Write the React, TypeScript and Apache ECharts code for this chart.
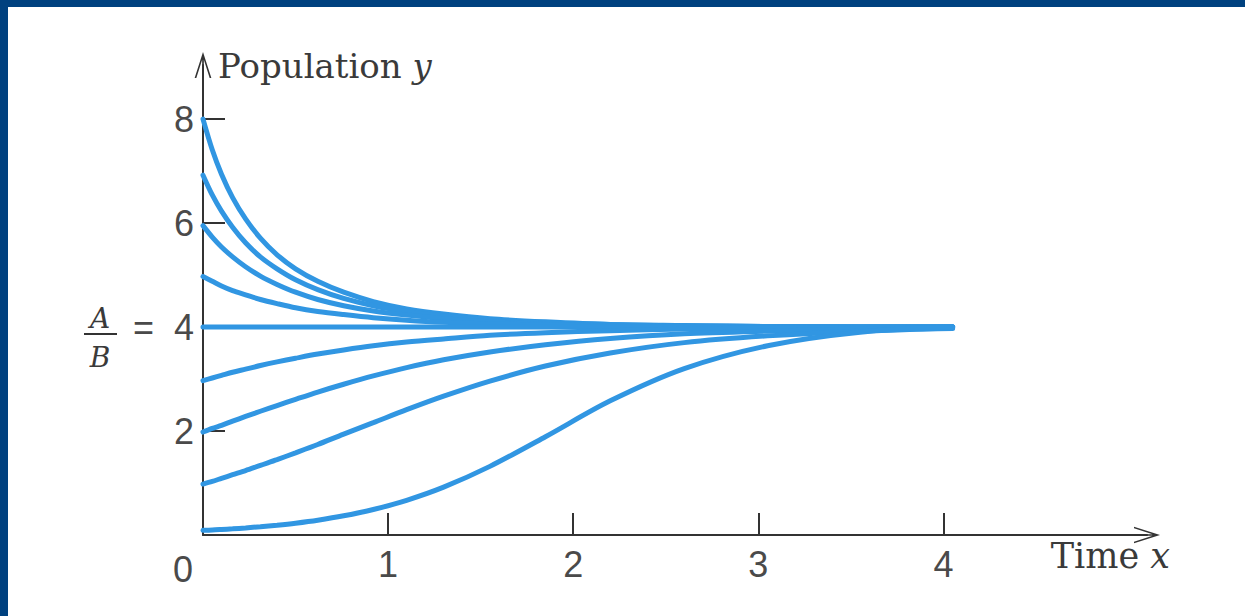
import React, { useEffect, useRef } from 'react';
import * as echarts from 'echarts';

// Sample times (x) shared by every curve (gradually widening steps)
const TIMES = [0, 0.05, 0.1, 0.16, 0.23, 0.31, 0.4, 0.5, 0.62, 0.76, 0.92, 1.1, 1.3, 1.55, 1.85, 2.2, 2.6, 3.05, 3.55, 4.05];

// Population values, one array per curve
const FROM_8 = [8.0, 7.41, 6.94, 6.49, 6.08, 5.71, 5.39, 5.12, 4.88, 4.67, 4.49, 4.35, 4.25, 4.16, 4.1, 4.05, 4.03, 4.01, 4.0, 4.0];
const FROM_7 = [6.92, 6.54, 6.23, 5.92, 5.62, 5.35, 5.12, 4.91, 4.72, 4.55, 4.41, 4.3, 4.21, 4.14, 4.08, 4.05, 4.02, 4.01, 4.0, 4.0];
const FROM_6 = [5.95, 5.73, 5.54, 5.35, 5.16, 4.98, 4.82, 4.67, 4.53, 4.41, 4.31, 4.23, 4.16, 4.1, 4.06, 4.03, 4.02, 4.01, 4.0, 4.0];
const FROM_5 = [4.97, 4.88, 4.79, 4.7, 4.62, 4.53, 4.45, 4.37, 4.3, 4.24, 4.18, 4.13, 4.09, 4.06, 4.04, 4.02, 4.01, 4.0, 4.0, 4.0];
const FROM_4 = [4, 4, 4, 4, 4, 4, 4, 4, 4, 4, 4, 4, 4, 4, 4, 4, 4, 4, 4, 4];
const FROM_3 = [2.97, 3.02, 3.07, 3.13, 3.19, 3.26, 3.33, 3.4, 3.48, 3.56, 3.64, 3.71, 3.77, 3.84, 3.89, 3.93, 3.96, 3.98, 3.99, 4.0];
const FROM_2 = [1.98, 2.05, 2.11, 2.19, 2.28, 2.38, 2.49, 2.61, 2.75, 2.9, 3.06, 3.22, 3.37, 3.52, 3.66, 3.78, 3.87, 3.92, 3.96, 3.98];
const FROM_1 = [0.98, 1.03, 1.09, 1.16, 1.24, 1.34, 1.45, 1.58, 1.74, 1.94, 2.16, 2.41, 2.67, 2.96, 3.25, 3.5, 3.7, 3.83, 3.92, 3.97];
const FROM_0 = [0.09, 0.096, 0.106, 0.119, 0.136, 0.159, 0.189, 0.228, 0.285, 0.369, 0.491, 0.668, 0.921, 1.32, 1.89, 2.58, 3.2, 3.64, 3.9, 4.0];

const CURVES = [FROM_8, FROM_7, FROM_6, FROM_5, FROM_4, FROM_3, FROM_2, FROM_1, FROM_0];

const X_TICKS = [1, 2, 3, 4];
const X_LABELS = [0, 1, 2, 3, 4];
const Y_TICKS = [2, 4, 6, 8];
const X_MAX = 5.1;
const Y_MAX = 9.04;
const EQUILIBRIUM = 4;

const LINE_COLOR = '#3196e2';
const AXIS_COLOR = '#333333';
const TEXT_COLOR = '#3a3a3a';
const DIGIT_COLOR = '#4a4a4a';
const FRAME_COLOR = '#00417f';

const ARROW =
  'path://M0,28 L9,0 L18,28 L16.2,28 L9,5.5 L1.8,28 Z M8.1,5.5 L9.9,5.5 L9.9,28 L8.1,28 Z';

export default function App() {
  const ref = useRef<HTMLDivElement>(null);

  useEffect(() => {
    const chart = echarts.init(ref.current as HTMLDivElement, null, { renderer: 'svg' });

    const series = CURVES.map((ys, i) => ({
      type: 'line',
      name: 'curve' + i,
      data: TIMES.map((t, j) => [t, ys[j]]),
      smooth: 0.3,
      showSymbol: false,
      symbol: 'none',
      silent: true,
      lineStyle: { width: 5, color: LINE_COLOR, cap: 'round' },
      z: 2,
    }));

    const digitStyle = {
      fontFamily: 'Liberation Sans',
      fontSize: 36,
      color: DIGIT_COLOR,
    };

    chart.setOption({
      animation: false,
      backgroundColor: 'transparent',
      grid: { left: 203, right: 98, top: 65, bottom: 81, containLabel: false },
      xAxis: {
        type: 'value',
        min: 0,
        max: X_MAX,
        name: '{t|Time }{x|x}',
        nameLocation: 'end',
        nameGap: 23,
        nameTextStyle: {
          align: 'right',
          verticalAlign: 'top',
          padding: [3, 0, 0, 0],
          rich: {
            t: { fontFamily: 'DejaVu Serif', fontSize: 35, color: TEXT_COLOR },
            x: { fontFamily: 'DejaVu Serif', fontStyle: 'italic', fontSize: 35, color: TEXT_COLOR },
          },
        },
        axisLine: {
          show: true,
          onZero: false,
          symbol: ['none', ARROW],
          symbolSize: [17, 26],
          lineStyle: { color: AXIS_COLOR, width: 2 },
        },
        axisTick: {
          show: true,
          inside: true,
          length: 22,
          customValues: X_TICKS,
          lineStyle: { color: AXIS_COLOR, width: 2 },
        },
        axisLabel: {
          show: true,
          margin: 11,
          customValues: X_LABELS,
          ...digitStyle,
          formatter: (v: number) => (v === 0 ? '{z|0}' : String(v)),
          rich: {
            z: { ...digitStyle, padding: [5, 40, 0, 0] },
          },
        },
        splitLine: { show: false },
      },
      yAxis: {
        type: 'value',
        min: 0,
        max: Y_MAX,
        name: '{p|Population }{y|y}',
        nameLocation: 'end',
        nameGap: 16,
        nameTextStyle: {
          align: 'left',
          verticalAlign: 'top',
          padding: [0, 0, 0, 15],
          rich: {
            p: { fontFamily: 'DejaVu Serif', fontSize: 34, color: TEXT_COLOR },
            y: { fontFamily: 'DejaVu Serif', fontStyle: 'italic', fontSize: 34, color: TEXT_COLOR },
          },
        },
        axisLine: {
          show: true,
          onZero: false,
          symbol: ['none', ARROW],
          symbolSize: [17, 26],
          lineStyle: { color: AXIS_COLOR, width: 2 },
        },
        axisTick: {
          show: true,
          inside: true,
          length: 22,
          customValues: Y_TICKS,
          lineStyle: { color: AXIS_COLOR, width: 2 },
        },
        axisLabel: {
          show: true,
          margin: 9,
          customValues: Y_TICKS,
          ...digitStyle,
          formatter: (v: number) => (v === EQUILIBRIUM ? '=  ' + v : String(v)),
        },
        splitLine: { show: false },
      },
      series,
    });

    // A/B fraction beside the equilibrium label
    const p = chart.convertToPixel({ gridIndex: 0 }, [0, EQUILIBRIUM]) as number[];
    const fracFont = { fontFamily: 'DejaVu Serif', fontStyle: 'italic', fontSize: 28, fill: TEXT_COLOR };
    chart.setOption({
      graphic: [
        {
          type: 'text',
          x: p[0] - 103,
          y: p[1] - 9,
          style: { text: 'A', align: 'center', verticalAlign: 'middle', ...fracFont },
        },
        {
          type: 'line',
          shape: { x1: p[0] - 119, y1: p[1] + 7, x2: p[0] - 86, y2: p[1] + 7 },
          style: { stroke: AXIS_COLOR, lineWidth: 2 },
        },
        {
          type: 'text',
          x: p[0] - 103,
          y: p[1] + 30,
          style: { text: 'B', align: 'center', verticalAlign: 'middle', ...fracFont },
        },
      ],
    });

    return () => {
      chart.dispose();
    };
  }, []);

  return (
    <div
      style={{
        position: 'fixed',
        left: 0,
        top: 0,
        width: 1245,
        height: 616,
        background: '#ffffff',
        overflow: 'hidden',
      }}
    >
      <div ref={ref} style={{ position: 'absolute', left: 0, top: 0, width: 1245, height: 616 }} />
      <div style={{ position: 'absolute', left: 0, top: 0, width: 1245, height: 7, background: FRAME_COLOR }} />
      <div style={{ position: 'absolute', left: 0, top: 0, width: 8, height: 616, background: FRAME_COLOR }} />
    </div>
  );
}
